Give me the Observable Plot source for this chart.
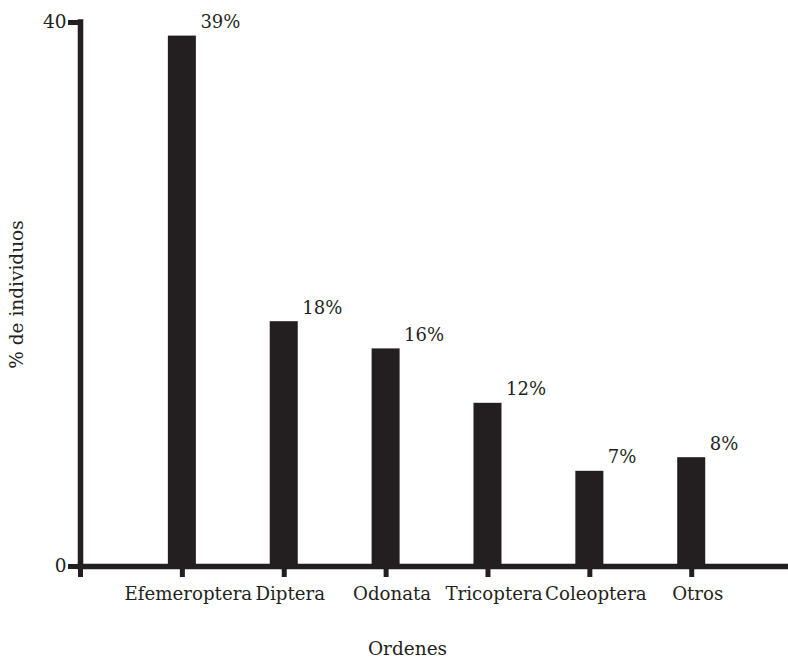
<!DOCTYPE html>
<html>
<head>
<meta charset="utf-8">
<script src="https://cdn.jsdelivr.net/npm/d3@7"></script>
<script src="https://cdn.jsdelivr.net/npm/@observablehq/plot@0.6"></script>
<style>
  html, body { margin: 0; padding: 0; background: #fff; }
</style>
</head>
<body>
<div id="chart"></div>
<script>
const categories = ["Efemeroptera", "Diptera", "Odonata", "Tricoptera", "Coleoptera", "Otros"];
const values = [39, 18, 16, 12, 7, 8];
const yTicks = [0, 40];
const xTitle = "Ordenes";
const yTitle = "% de individuos";

const ink = "#231f20";
const data = categories.map((c, i) => ({cat: c, pos: i + 1, value: values[i]}));
const half = 0.1375;
const xMax = 6.95;

const chart = Plot.plot({
  width: 788,
  height: 658,
  marginLeft: 80,
  marginRight: 0,
  marginTop: 22,
  marginBottom: 92,
  x: {type: "linear", domain: [0, xMax]},
  y: {domain: [0, 40]},
  style: {fontFamily: "'DejaVu Serif', serif", fontSize: "18px", color: ink, background: "#fff"},
  marks: [
    Plot.rectY(data, {x1: d => d.pos - half, x2: d => d.pos + half, y: "value", fill: ink}),
    Plot.ruleX([0], {y1: 0, y2: 40, stroke: ink, strokeWidth: 5.5, strokeLinecap: "square"}),
    Plot.ruleY([0], {x1: 0, x2: xMax, stroke: ink, strokeWidth: 5.5, strokeLinecap: "square"}),
    Plot.axisY({ticks: yTicks, tickSize: 12, tickPadding: 2, strokeWidth: 5, stroke: ink, label: null, fontSize: 18.5}),
    Plot.axisX({ticks: [0, ...data.map(d => d.pos)], tickSize: 11, strokeWidth: 5, stroke: ink,
      text: null, label: null}),
    Plot.axisX({ticks: data.map(d => d.pos), tickSize: 0, tickPadding: 21, dx: 6,
      tickFormat: t => categories[t - 1], label: null, fontSize: 18.2}),
    Plot.text(data, {x: d => d.pos + half, y: "value", text: d => d.value + "%", textAnchor: "start",
      lineAnchor: "bottom", dx: 4, dy: -8, fill: ink, fontSize: 18}),
    Plot.text([xTitle], {frameAnchor: "bottom", dx: -27, dy: 88, lineAnchor: "bottom", textAnchor: "middle", fill: ink, fontSize: 18.5}),
    Plot.text([yTitle], {frameAnchor: "left", rotate: -90, dx: -63, lineAnchor: "middle", textAnchor: "middle", fill: ink, fontSize: 18.5})
  ]
});
document.getElementById("chart").appendChild(chart);
</script>
</body>
</html>
